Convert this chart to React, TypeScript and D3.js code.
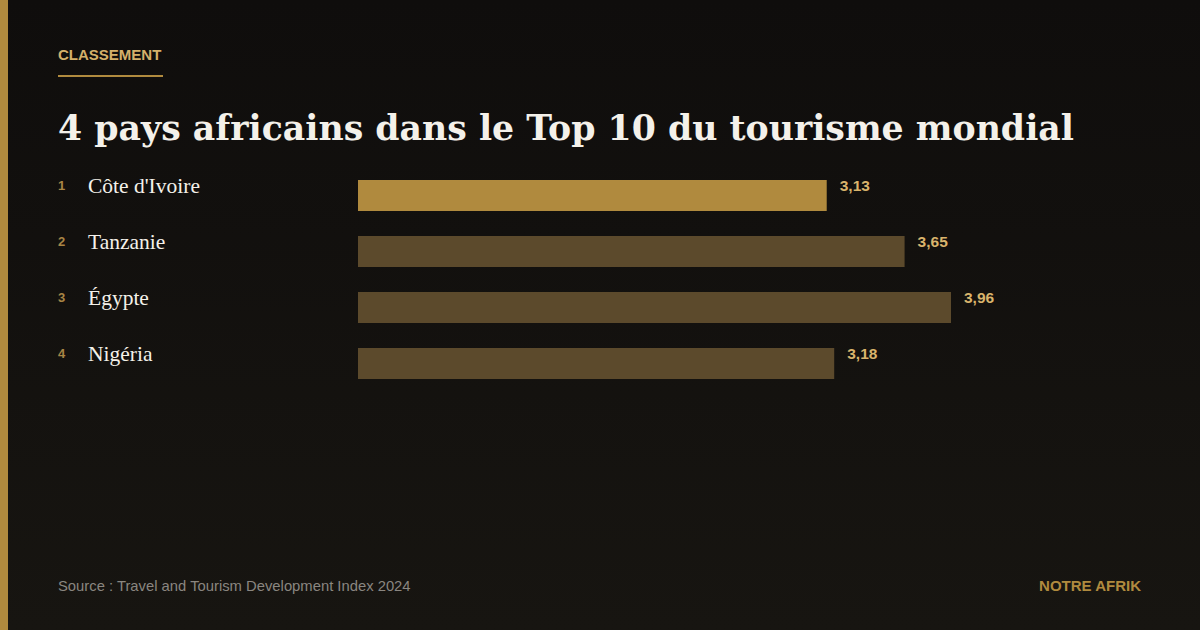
import React from "react";
import * as d3 from "d3";

const countries = ["Côte d'Ivoire", "Tanzanie", "Égypte", "Nigéria"];
const ranks = [1, 2, 3, 4];
const scores = [3.13, 3.65, 3.96, 3.18];
const valueLabels = ["3,13", "3,65", "3,96", "3,18"];

const W = 1200;
const H = 630;

export default function App() {
  const x = d3.scaleLinear().domain([0, 4]).range([358, 957]);
  const bw = 31;
  const step = 56;

  return (
    <svg
      width={W}
      height={H}
      style={{ position: "absolute", left: 0, top: 0, display: "block" }}
    >
      <defs>
        <linearGradient id="bg" x1="0" y1="0" x2="0" y2="1">
          <stop offset="0" stopColor="#0f0d0c" />
          <stop offset="1" stopColor="#171511" />
        </linearGradient>
      </defs>
      <rect x={0} y={0} width={W} height={H} fill="url(#bg)" />
      <rect x={0} y={0} width={8} height={H} fill="#b08a3e" />

      <text
        x={58}
        y={60}
        fontFamily="Liberation Sans, Arial, sans-serif"
        fontWeight="bold"
        fontSize={15}
        fill="#d4b06a"
      >
        CLASSEMENT
      </text>
      <rect x={58} y={75} width={105} height={2} fill="#b08a3e" />

      <text
        x={58}
        y={140}
        fontFamily="DejaVu Serif, Georgia, serif"
        fontWeight="bold"
        fontSize={36}
        fill="#f4f1ea"
        textLength={1016}
        lengthAdjust="spacingAndGlyphs"
      >
        4 pays africains dans le Top 10 du tourisme mondial
      </text>

      {countries.map((c, i) => {
        const yy = 180 + i * step;
        return (
          <g key={c}>
            <text
              x={58}
              y={yy + 10}
              fontFamily="Liberation Sans, Arial, sans-serif"
              fontWeight="bold"
              fontSize={13}
              fill="#a88545"
            >
              {ranks[i]}
            </text>
            <text
              x={88}
              y={yy + 13}
              fontFamily="Liberation Serif, Georgia, serif"
              fontSize={21.5}
              fill="#f4f1ea"
            >
              {c}
            </text>
            <rect
              x={x(0)}
              y={yy}
              width={x(scores[i]) - x(0)}
              height={bw}
              fill={i === 0 ? "#b08a3e" : "#5c4a2c"}
            />
            <text
              x={x(scores[i]) + 13}
              y={yy + 11}
              fontFamily="Liberation Sans, Arial, sans-serif"
              fontWeight="bold"
              fontSize={15.5}
              fill="#d9b46c"
            >
              {valueLabels[i]}
            </text>
          </g>
        );
      })}

      <text
        x={58}
        y={591}
        fontFamily="Liberation Sans, Arial, sans-serif"
        fontSize={14.8}
        fill="#8a8680"
      >
        Source : Travel and Tourism Development Index 2024
      </text>
      <text
        x={1141}
        y={591}
        textAnchor="end"
        fontFamily="Liberation Sans, Arial, sans-serif"
        fontWeight="bold"
        fontSize={15}
        fill="#b08a3e"
      >
        NOTRE AFRIK
      </text>
    </svg>
  );
}
